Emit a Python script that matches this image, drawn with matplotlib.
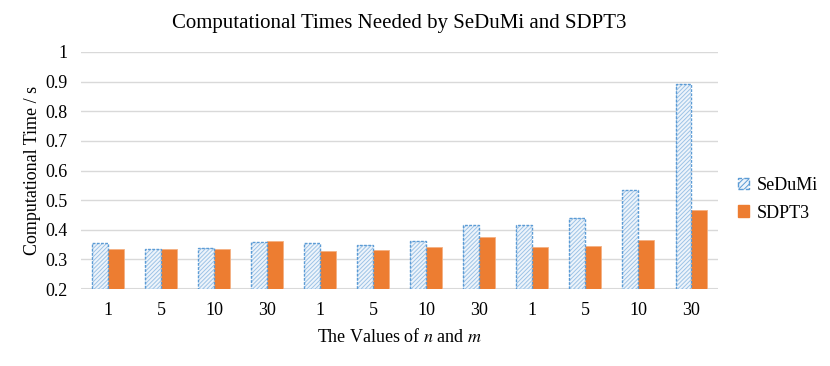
import numpy as np
import matplotlib.pyplot as plt
from matplotlib.patches import Patch

plt.rcParams['font.family'] = ['Liberation Serif', 'DejaVu Serif']
plt.rcParams['mathtext.fontset'] = 'stix'
plt.rcParams['hatch.linewidth'] = 0.7

# valores
labels = ['1', '5', '10', '30', '1', '5', '10', '30', '1', '5', '10', '30']
sedumi = [0.354, 0.335, 0.340, 0.358, 0.356, 0.350, 0.361, 0.415, 0.418, 0.440, 0.533, 0.893]
sdpt3 = [0.335, 0.337, 0.335, 0.361, 0.327, 0.332, 0.342, 0.377, 0.342, 0.346, 0.365, 0.466]

blue = '#5B9BD5'
orange = '#ED7D31'
base = 0.2

fig = plt.figure(figsize=(8.3, 3.66), dpi=100)
ax = fig.add_axes([0.098, 0.21, 0.767, 0.648])

x = np.arange(len(labels))
w = 0.3

# barras hachuradas (preenchimento + borda tracejada)
h1 = np.array(sedumi) - base
ax.bar(x - w / 2, h1, w, bottom=base, color='#EEF4FB', edgecolor='#9DC3E6',
       hatch='////////', linewidth=0, zorder=3)
ax.bar(x - w / 2, h1, w, bottom=base, fill=False, edgecolor=blue,
       linestyle=(0, (2, 1)), linewidth=1.0, zorder=4)
ax.bar(x + w / 2, np.array(sdpt3) - base, w, bottom=base, color=orange,
       edgecolor='#F4B183', linewidth=0.6, zorder=3)

ax.set_ylim(0.2, 1.0)
ax.set_yticks(np.arange(0.2, 1.01, 0.1))
ax.set_yticklabels(['0.2', '0.3', '0.4', '0.5', '0.6', '0.7', '0.8', '0.9', '1'])
ax.set_xlim(-0.5, len(labels) - 0.5)
ax.set_xticks(x)
ax.set_xticklabels(labels)

ax.grid(axis='y', color='#D9D9D9', linewidth=1.0, zorder=0)
for s in ax.spines.values():
    s.set_visible(False)
ax.axhline(0.2, color='#D9D9D9', linewidth=1.5, zorder=2)
ax.tick_params(length=0, labelsize=13, pad=9)
ax.tick_params(axis='y', pad=10)

ax.set_title('Computational Times Needed by SeDuMi and SDPT3', fontsize=15, pad=17)
ax.set_xlabel('The Values of $n$ and $m$', fontsize=13, labelpad=7)
ax.set_ylabel('Computational Time / s', fontsize=13, labelpad=3)

handles = [Patch(facecolor='#EEF4FB', edgecolor=blue, hatch='//////', linestyle='--'),
           Patch(facecolor=orange, edgecolor=orange)]
fig.legend(handles, ['SeDuMi', 'SDPT3'], loc='center left', bbox_to_anchor=(0.87, 0.456),
           frameon=False, fontsize=13, handlelength=0.6, handleheight=0.6,
           handletextpad=0.4, labelspacing=0.6)

fig.savefig('out.png', dpi=100)
